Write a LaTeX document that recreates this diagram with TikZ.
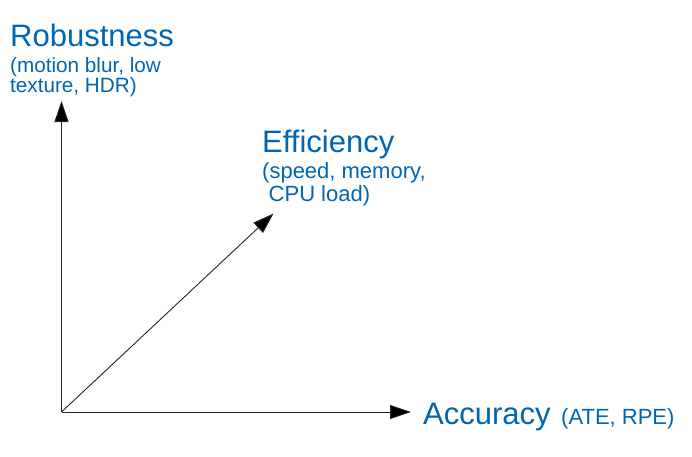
\documentclass[tikz,border=0pt]{standalone}
\usepackage{fontspec}
\setmainfont{Liberation Sans}
\usetikzlibrary{arrows.meta}
\definecolor{lblue}{RGB}{0,102,179}
\tikzset{
  axis/.style={draw=black!85, line width=0.9pt, -{Triangle[length=21pt,width=14pt,fill=black]}},
  big/.style={anchor=base west, inner sep=0pt, text=lblue, font=\fontsize{31}{36}\selectfont},
  small/.style={anchor=base west, inner sep=0pt, text=lblue, font=\fontsize{20.7}{24}\selectfont},
  mid/.style={anchor=base west, inner sep=0pt, text=lblue, font=\fontsize{22}{26}\selectfont}
}
\begin{document}
\begin{tikzpicture}[x=1pt,y=1pt]
\useasboundingbox (0,0) rectangle (692,456);
\coordinate (o) at (61.5,44);
\coordinate (ytip) at (61.5,355);
\coordinate (xtip) at (411,44);
\coordinate (dtip) at (273.5,242.5);
\draw[axis] (o) -- (ytip);
\draw[axis] (o) -- (xtip);
\draw[axis] (o) -- (dtip);
\node[big] (rob) at (10,409) {Robustness};
\node[small] (rob1) at (10,383) {(motion blur, low};
\node[small] (rob2) at (10,363) {texture, HDR)};
\node[big] (eff) at (262,303.5) {Efficiency};
\node[mid] (eff1) at (262,278) {(speed, memory,};
\node[mid] (eff2) at (268.5,254.5) {CPU load)};
\node[big] (acc) at (423,32) {Accuracy};
\node[mid] (acc1) at (561,32) {(ATE, RPE)};
\end{tikzpicture}
\end{document}
